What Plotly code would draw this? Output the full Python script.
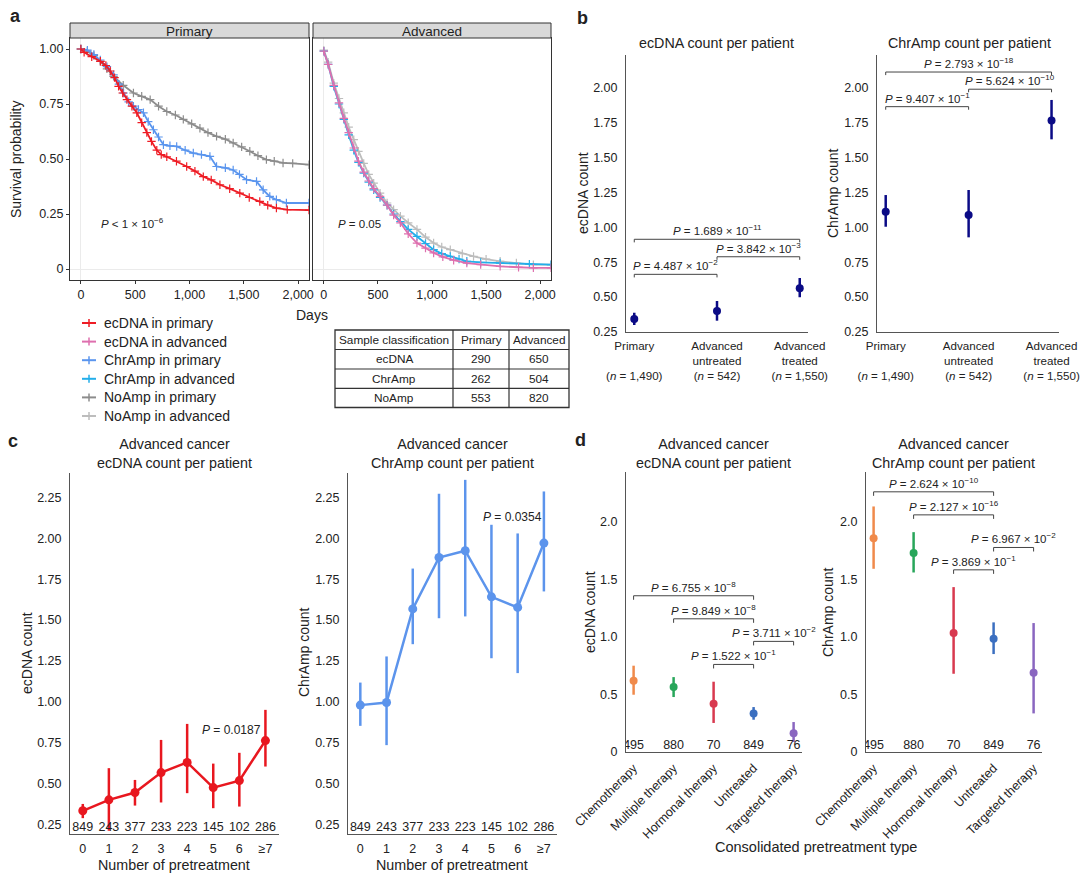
import plotly.graph_objects as go

W, H = 1080, 879
FONT = "Liberation Sans, Arial, sans-serif"
TXT = "#222222"

# ------------------------------------------------------------------ data
# Panel a: Kaplan-Meier curves (days, survival probability)
km_ecdna_pri_t = [0, 30, 100, 180, 230, 271, 310, 347, 385, 424, 470, 515, 560, 607, 650, 699, 740, 791, 880, 974,
                  1050, 1127, 1200, 1280, 1370, 1463, 1550, 1647, 1720, 1800, 1900, 2100]
km_ecdna_pri_s = [1.00, 0.985, 0.965, 0.944, 0.925, 0.90, 0.87, 0.83, 0.80, 0.77, 0.74, 0.71, 0.665, 0.62, 0.58, 0.54,
                  0.52, 0.51, 0.49, 0.466, 0.445, 0.42, 0.405, 0.383, 0.365, 0.345, 0.325, 0.307, 0.29, 0.277, 0.27, 0.268]
km_chramp_pri_t = [0, 60, 120, 179, 240, 301, 350, 393, 440, 484, 530, 576, 620, 668, 715, 760, 820, 882, 960, 1035,
                   1110, 1188, 1249, 1330, 1402, 1460, 1525, 1617, 1678, 1739, 1800, 1892, 2100]
km_chramp_pri_s = [1.00, 0.995, 0.975, 0.95, 0.92, 0.883, 0.84, 0.80, 0.76, 0.74, 0.725, 0.71, 0.67, 0.633, 0.60, 0.565,
                   0.56, 0.557, 0.54, 0.527, 0.52, 0.512, 0.466, 0.46, 0.45, 0.43, 0.406, 0.398, 0.36, 0.33, 0.315, 0.30, 0.30]
km_noamp_pri_t = [0, 60, 120, 179, 240, 301, 390, 484, 560, 638, 715, 791, 870, 943, 1020, 1096, 1170, 1249, 1330,
                  1402, 1480, 1555, 1630, 1708, 1780, 1861, 1950, 2100]
km_noamp_pri_s = [1.00, 0.99, 0.97, 0.944, 0.91, 0.876, 0.835, 0.80, 0.785, 0.77, 0.74, 0.716, 0.70, 0.68, 0.66, 0.64,
                  0.62, 0.603, 0.59, 0.573, 0.555, 0.535, 0.515, 0.497, 0.49, 0.482, 0.48, 0.474]
km_ecdna_adv_t = [0, 40, 92, 140, 185, 230, 277, 320, 369, 415, 461, 520, 585, 645, 708, 780, 861, 940, 1015, 1100,
                  1200, 1322, 1450, 1630, 1800, 1937, 2100]
km_ecdna_adv_s = [0.99, 0.93, 0.835, 0.755, 0.685, 0.62, 0.55, 0.49, 0.44, 0.40, 0.365, 0.33, 0.29, 0.245, 0.21, 0.16,
                  0.118, 0.095, 0.073, 0.055, 0.04, 0.027, 0.02, 0.012, 0.008, 0.005, 0.005]
km_chramp_adv_t = [0, 40, 92, 140, 185, 230, 277, 320, 369, 415, 461, 520, 585, 645, 708, 780, 861, 940, 1015, 1090,
                   1169, 1250, 1322, 1450, 1630, 1900, 2100]
km_chramp_adv_s = [0.99, 0.93, 0.83, 0.75, 0.68, 0.61, 0.54, 0.485, 0.436, 0.395, 0.36, 0.325, 0.29, 0.25, 0.216, 0.18,
                   0.148, 0.115, 0.088, 0.07, 0.057, 0.045, 0.035, 0.03, 0.027, 0.022, 0.02]
km_noamp_adv_t = [0, 40, 92, 140, 185, 230, 277, 320, 369, 415, 461, 520, 585, 645, 708, 780, 861, 940, 1015, 1090,
                  1169, 1280, 1384, 1500, 1630, 1780, 1937, 2100]
km_noamp_adv_s = [0.995, 0.94, 0.845, 0.775, 0.71, 0.645, 0.588, 0.535, 0.48, 0.43, 0.39, 0.345, 0.30, 0.27, 0.24, 0.21,
                  0.18, 0.145, 0.118, 0.10, 0.088, 0.07, 0.057, 0.045, 0.035, 0.027, 0.02, 0.02]

km_names = ["ecDNA in primary", "ecDNA in advanced", "ChrAmp in primary",
            "ChrAmp in advanced", "NoAmp in primary", "NoAmp in advanced"]
km_panels = ["Primary", "Advanced"]
km_p_text = ["<i>P</i> < 1 × 10<sup>−6</sup>", "<i>P</i> = 0.05"]

table_header = ["Sample classification", "Primary", "Advanced"]
table_class = ["ecDNA", "ChrAmp", "NoAmp"]
table_primary = [290, 262, 553]
table_advanced = [650, 504, 820]

# Panel b
b_groups = ["Primary", "Advanced untreated", "Advanced treated"]
b_ticktext = ["Primary<br> <br>(<i>n</i> = 1,490)", "Advanced<br>untreated<br>(<i>n</i> = 542)",
              "Advanced<br>treated<br>(<i>n</i> = 1,550)"]
b_ecdna_mean = [0.343, 0.400, 0.563]
b_ecdna_lo = [0.300, 0.331, 0.499]
b_ecdna_hi = [0.388, 0.472, 0.637]
b_chramp_mean = [1.112, 1.088, 1.764]
b_chramp_lo = [1.004, 0.928, 1.630]
b_chramp_hi = [1.231, 1.267, 1.912]
b_ecdna_tests = [(0, 1, "4.487", "−2"), (1, 2, "3.842", "−3"), (0, 2, "1.689", "−11")]
b_chramp_tests = [(0, 1, "9.407", "−1"), (1, 2, "5.624", "−10"), (0, 2, "2.793", "−18")]

# Panel c
c_levels = ["0", "1", "2", "3", "4", "5", "6", "≥7"]
c_n = [849, 243, 377, 233, 223, 145, 102, 286]
c_ecdna_mean = [0.332, 0.399, 0.444, 0.566, 0.628, 0.474, 0.517, 0.762]
c_ecdna_lo = [0.287, 0.210, 0.364, 0.383, 0.440, 0.348, 0.358, 0.603]
c_ecdna_hi = [0.374, 0.593, 0.521, 0.766, 0.864, 0.621, 0.687, 0.950]
c_chramp_mean = [0.979, 0.995, 1.568, 1.883, 1.924, 1.642, 1.577, 1.971]
c_chramp_lo = [0.852, 0.734, 1.352, 1.511, 1.522, 1.266, 1.175, 1.675]
c_chramp_hi = [1.117, 1.277, 1.815, 2.273, 2.358, 2.083, 2.030, 2.287]
c_p_text = ["<i>P</i> = 0.0187", "<i>P</i> = 0.0354"]

# Panel d
d_types = ["Chemotherapy", "Multiple therapy", "Hormonal therapy", "Untreated", "Targeted therapy"]
d_n = [495, 880, 70, 849, 76]
d_ecdna_mean = [0.619, 0.564, 0.419, 0.335, 0.162]
d_ecdna_lo = [0.497, 0.477, 0.252, 0.280, 0.087]
d_ecdna_hi = [0.749, 0.650, 0.610, 0.390, 0.260]
d_chramp_mean = [1.856, 1.726, 1.032, 0.983, 0.688]
d_chramp_lo = [1.590, 1.558, 0.679, 0.850, 0.335]
d_chramp_hi = [2.131, 1.908, 1.431, 1.125, 1.119]
d_ecdna_tests = [(0, 3, "6.755", "−8"), (1, 3, "9.849", "−8"), (3, 4, "3.711", "−2"), (2, 3, "1.522", "−1")]
d_chramp_tests = [(0, 3, "2.624", "−10"), (1, 3, "2.127", "−16"), (3, 4, "6.967", "−2"), (2, 3, "3.869", "−1")]

# ------------------------------------------------------------------ styles
km_colors = ["#EE1C25", "#DE6FAE", "#5A95EE", "#23AEEA", "#8C8C8C", "#BDBDBD"]
NAVY = "#0B0B86"
C_RED = "#E8171F"
C_BLUE = "#5C94EC"
d_colors = ["#F08A4B", "#28A65A", "#D8394F", "#3B6FC0", "#8A66C0"]
b_ecdna_levels = [0.663, 0.789, 0.914]
b_chramp_levels = [1.864, 1.989, 2.112]
d_ecdna_levels = [1.356, 1.156, 0.960, 0.760]
d_chramp_levels = [2.258, 2.058, 1.775, 1.581]
TICK = 12.5
TITLE = 14.3
AXT = 14


def px(x):
    return x / W


def py(y):
    return 1 - y / H


fig = go.Figure()
layout = dict(width=W, height=H, margin=dict(l=0, r=0, t=0, b=0, autoexpand=False), paper_bgcolor="white",
              plot_bgcolor="white", showlegend=False, font=dict(family=FONT, size=12, color=TXT))
shapes = []
annos = []


def axname(i, k):
    return k + ("" if i == 1 else str(i))


def set_axes(i, x0, x1, y0, y1, xo, yo):
    layout[axname(i, "xaxis")] = dict(domain=[px(x0), px(x1)], anchor=axname(i, "y"), automargin=False, **xo)
    layout[axname(i, "yaxis")] = dict(domain=[py(y1), py(y0)], anchor=axname(i, "x"), automargin=False, **yo)


def txt(x, y, text, size=12, xanchor="center", yanchor="middle", angle=0, bold=False, **kw):
    a = dict(x=px(x), y=py(y), xref="paper", yref="paper", text=("<b>%s</b>" % text) if bold else text,
             showarrow=False, xanchor=xanchor, yanchor=yanchor, textangle=angle,
             font=dict(family=FONT, size=size, color=TXT))
    a.update(kw)
    annos.append(a)


# ------------------------------------------------------------------ panel a
km_data = [(km_ecdna_pri_t, km_ecdna_pri_s, 1), (km_ecdna_adv_t, km_ecdna_adv_s, 2),
           (km_chramp_pri_t, km_chramp_pri_s, 1), (km_chramp_adv_t, km_chramp_adv_s, 2),
           (km_noamp_pri_t, km_noamp_pri_s, 1), (km_noamp_adv_t, km_noamp_adv_s, 2)]
order = [4, 2, 0, 5, 3, 1]  # draw gray first
for k in order:
    t, s, ax = km_data[k]
    fig.add_trace(go.Scatter(x=t, y=s, mode="lines+markers", line=dict(color=km_colors[k], width=1.8),
                             marker=dict(symbol="cross-thin", size=6, line=dict(width=1.2, color=km_colors[k])),
                             xaxis=axname(ax, "x"), yaxis=axname(ax, "y"), name=km_names[k]))

a_x = dict(range=[-100, 2100], tickvals=[0, 500, 1000, 1500, 2000],
           ticktext=["0", "500", "1,000", "1,500", "2,000"], showline=True, mirror=True, linecolor="#333",
           linewidth=1, showgrid=False, zeroline=True, zerolinecolor="#EBEBEB", zerolinewidth=1,
           ticks="outside", ticklen=3, tickcolor="#333", tickfont=dict(size=TICK, color=TXT))
a_y = dict(range=[-0.05, 1.05], tickvals=[0, 0.25, 0.5, 0.75, 1.0], ticktext=["0", "0.25", "0.50", "0.75", "1.00"],
           showline=True, mirror=True, linecolor="#333", linewidth=1, showgrid=False, zeroline=True,
           zerolinecolor="#EBEBEB", zerolinewidth=1, ticks="outside", ticklen=3, tickcolor="#333",
           tickfont=dict(size=TICK, color=TXT))
set_axes(1, 70, 309, 38, 280, a_x, a_y)
a_y2 = dict(a_y)
a_y2.update(showticklabels=False, ticks="")
set_axes(2, 313, 551, 38, 280, a_x, a_y2)

for (x0, x1), name in zip([(70, 309), (313, 551)], km_panels):
    shapes.append(dict(type="rect", xref="paper", yref="paper", x0=px(x0), x1=px(x1), y0=py(38), y1=py(23),
                       fillcolor="#D9D9D9", line=dict(color="#333", width=1)))
    txt((x0 + x1) / 2, 31, name, size=13.5)

annos.append(dict(x=170, y=0.21, xref="x", yref="y", text=km_p_text[0], showarrow=False, xanchor="left",
                  font=dict(family=FONT, size=11.5, color=TXT)))
annos.append(dict(x=108, y=0.206, xref="x2", yref="y2", text=km_p_text[1], showarrow=False, xanchor="left",
                  font=dict(family=FONT, size=11.5, color=TXT)))
txt(16, 159, "Survival probability", size=AXT, angle=-90)
txt(312, 315, "Days", size=AXT)
txt(15, 16, "a", size=18, bold=True)

# legend (manual)
for k, name in enumerate(km_names):
    y = 323 + k * 18.6
    shapes.append(dict(type="line", xref="paper", yref="paper", x0=px(82), x1=px(96), y0=py(y), y1=py(y),
                       line=dict(color=km_colors[k], width=2)))
    shapes.append(dict(type="line", xref="paper", yref="paper", x0=px(89), x1=px(89), y0=py(y - 4), y1=py(y + 4),
                       line=dict(color=km_colors[k], width=1.5)))
    txt(102, y, name, size=14, xanchor="left")

# table
cols = [335, 453, 509, 569]
rows = [330, 349.5, 369, 388.3, 407.5]
shapes.append(dict(type="rect", xref="paper", yref="paper", x0=px(cols[0]), x1=px(cols[-1]), y0=py(rows[-1]),
                   y1=py(rows[0]), line=dict(color="#333", width=1.3)))
for c in cols[1:-1]:
    shapes.append(dict(type="line", xref="paper", yref="paper", x0=px(c), x1=px(c), y0=py(rows[-1]), y1=py(rows[0]),
                       line=dict(color="#333", width=1.2)))
for r in rows[1:-1]:
    shapes.append(dict(type="line", xref="paper", yref="paper", x0=px(cols[0]), x1=px(cols[-1]), y0=py(r), y1=py(r),
                       line=dict(color="#333", width=1.2)))
table_cells = [table_header] + [[c, str(p), str(a)] for c, p, a in zip(table_class, table_primary, table_advanced)]
for ri, row in enumerate(table_cells):
    for ci, val in enumerate(row):
        txt((cols[ci] + cols[ci + 1]) / 2, (rows[ri] + rows[ri + 1]) / 2, val, size=11.8)

# ------------------------------------------------------------------ helpers for dot plots
def plain_axes(rng_x, rng_y, tickvals_y, ticktext_y, cat_x, ticktext_x=None, tickangle=0, xfont=TICK):
    xo = dict(type="category", categoryorder="array", categoryarray=cat_x, range=rng_x, showline=True,
              linecolor="#555", linewidth=1, showgrid=False, zeroline=False, ticks="outside", ticklen=3,
              tickcolor="rgba(0,0,0,0)", tickfont=dict(size=xfont, color=TXT), tickangle=tickangle)
    if ticktext_x is not None:
        xo.update(tickvals=cat_x, ticktext=ticktext_x)
    yo = dict(range=rng_y, tickvals=tickvals_y, ticktext=ticktext_y, showline=True, linecolor="#555", linewidth=1,
              showgrid=False, zeroline=False, ticks="outside", ticklen=5, tickcolor="rgba(0,0,0,0)",
              tickfont=dict(size=TICK, color=TXT))
    return xo, yo


def brackets(ax, cats, tests, levels, tick):
    for (i, j, mant, ex), lvl in zip(tests, levels):
        fig.add_trace(go.Scatter(x=[cats[i], cats[i], cats[j], cats[j]], y=[lvl - tick, lvl, lvl, lvl - tick],
                                 mode="lines", line=dict(color="#444", width=1), hoverinfo="skip",
                                 xaxis=axname(ax, "x"), yaxis=axname(ax, "y")))
        annos.append(dict(x=(i + j) / 2, y=lvl, xref=axname(ax, "x"), yref=axname(ax, "y"), yanchor="bottom",
                          yshift=0, showarrow=False,
                          text="<i>P</i> = %s × 10<sup>%s</sup>" % (mant, ex),
                          font=dict(family=FONT, size=11.5, color=TXT)))


def dots(ax, cats, mean, lo, hi, color, size=8, mode="markers", width=2.5):
    fig.add_trace(go.Scatter(x=cats, y=mean, mode=mode, marker=dict(color=color, size=size),
                             line=dict(color=color, width=width),
                             error_y=dict(type="data", symmetric=False,
                                          array=[h - m for h, m in zip(hi, mean)],
                                          arrayminus=[m - l for m, l in zip(mean, lo)],
                                          thickness=2.5, width=0, color=color),
                             xaxis=axname(ax, "x"), yaxis=axname(ax, "y")))


# ------------------------------------------------------------------ panel b
b_ticks = [0.25, 0.5, 0.75, 1.0, 1.25, 1.5, 1.75, 2.0]
b_tt = ["%.2f" % v for v in b_ticks]
xo, yo = plain_axes([-0.1, 2.1], [0.25, 2.234], b_ticks, b_tt, b_groups, b_ticktext, xfont=11.6)
set_axes(3, 626, 808, 55, 332, xo, yo)
xo, yo = plain_axes([-0.105, 2.09], [0.25, 2.234], b_ticks, b_tt, b_groups, b_ticktext, xfont=11.6)
set_axes(4, 877, 1059, 55, 332, xo, yo)
dots(3, b_groups, b_ecdna_mean, b_ecdna_lo, b_ecdna_hi, NAVY, size=8)
dots(4, b_groups, b_chramp_mean, b_chramp_lo, b_chramp_hi, NAVY, size=8)
brackets(3, b_groups, b_ecdna_tests, b_ecdna_levels, 0.022)
brackets(4, b_groups, b_chramp_tests, b_chramp_levels, 0.022)
txt(716, 43, "ecDNA count per patient", size=TITLE)
txt(969, 43, "ChrAmp count per patient", size=TITLE)
txt(583, 193, "ecDNA count", size=AXT, angle=-90)
txt(833, 193, "ChrAmp count", size=AXT, angle=-90)
txt(582, 18, "b", size=18, bold=True)

# ------------------------------------------------------------------ panel c
c_ticks = [0.25, 0.5, 0.75, 1.0, 1.25, 1.5, 1.75, 2.0, 2.25]
c_tt = ["%.2f" % v for v in c_ticks]
xo, yo = plain_axes([-0.49, 7.52], [0.19, 2.40], c_ticks, c_tt, c_levels)
set_axes(5, 70, 279, 473, 834, xo, yo)
xo, yo = plain_axes([-0.47, 7.5], [0.19, 2.40], c_ticks, c_tt, c_levels)
set_axes(6, 348, 557, 473, 834, xo, yo)
dots(5, c_levels, c_ecdna_mean, c_ecdna_lo, c_ecdna_hi, C_RED, size=9, mode="lines+markers")
dots(6, c_levels, c_chramp_mean, c_chramp_lo, c_chramp_hi, C_BLUE, size=9, mode="lines+markers")
for ax in (5, 6):
    fig.add_trace(go.Scatter(x=c_levels, y=[0.225] * len(c_levels), mode="text", text=[str(v) for v in c_n],
                             textfont=dict(family=FONT, size=12.5, color=TXT), xaxis=axname(ax, "x"),
                             yaxis=axname(ax, "y")))
annos.append(dict(x=5.7, y=0.828, xref="x5", yref="y5", text=c_p_text[0], showarrow=False,
                  font=dict(family=FONT, size=12, color=TXT)))
annos.append(dict(x=5.81, y=2.128, xref="x6", yref="y6", text=c_p_text[1], showarrow=False,
                  font=dict(family=FONT, size=12, color=TXT)))
txt(174, 453, "Advanced cancer<br>ecDNA count per patient", size=TITLE)
txt(452, 453, "Advanced cancer<br>ChrAmp count per patient", size=TITLE)
txt(27, 653, "ecDNA count", size=AXT, angle=-90)
txt(304, 652, "ChrAmp count", size=AXT, angle=-90)
txt(174, 865, "Number of pretreatment", size=14.3)
txt(452, 865, "Number of pretreatment", size=14.3)
txt(13, 441, "c", size=18, bold=True)

# ------------------------------------------------------------------ panel d
d_ticks = [0, 0.5, 1.0, 1.5, 2.0]
d_tt = ["0", "0.5", "1.0", "1.5", "2.0"]
xo, yo = plain_axes([-0.19, 4.21], [0, 2.43], d_ticks, d_tt, d_types, tickangle=-45)
set_axes(7, 626, 802, 472, 752, xo, yo)
xo, yo = plain_axes([-0.19, 4.21], [0, 2.43], d_ticks, d_tt, d_types, tickangle=-45)
set_axes(8, 866, 1042, 472, 752, xo, yo)
for k, cat in enumerate(d_types):
    dots(7, [cat], [d_ecdna_mean[k]], [d_ecdna_lo[k]], [d_ecdna_hi[k]], d_colors[k], size=8)
    dots(8, [cat], [d_chramp_mean[k]], [d_chramp_lo[k]], [d_chramp_hi[k]], d_colors[k], size=8)
brackets(7, d_types, d_ecdna_tests, d_ecdna_levels, 0.035)
brackets(8, d_types, d_chramp_tests, d_chramp_levels, 0.035)
for ax in (7, 8):
    fig.add_trace(go.Scatter(x=d_types, y=[0.055] * len(d_types), mode="text", text=[str(v) for v in d_n],
                             textfont=dict(family=FONT, size=12.5, color=TXT), xaxis=axname(ax, "x"),
                             yaxis=axname(ax, "y")))
txt(713, 453, "Advanced cancer<br>ecDNA count per patient", size=TITLE)
txt(953, 453, "Advanced cancer<br>ChrAmp count per patient", size=TITLE)
txt(590, 612, "ecDNA count", size=AXT, angle=-90)
txt(828, 612, "ChrAmp count", size=AXT, angle=-90)
txt(816, 847, "Consolidated pretreatment type", size=14.5)
txt(580, 440, "d", size=18, bold=True)

layout["shapes"] = shapes
layout["annotations"] = annos
fig.update_layout(**layout)
fig.write_html("out.html", config={"displayModeBar": False},
               post_script="document.body.style.margin='0px';document.body.style.overflow='hidden';")
